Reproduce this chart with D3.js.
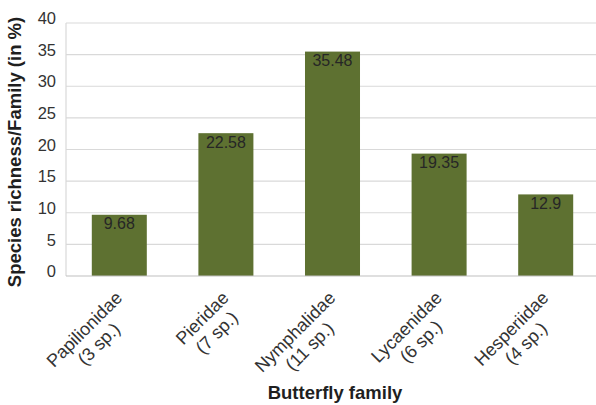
<!DOCTYPE html>
<html>
<head>
<meta charset="utf-8">
<script src="https://cdn.jsdelivr.net/npm/d3@7"></script>
<style>
  html, body { margin: 0; padding: 0; background: #fff; }
  svg { display: block; font-family: "Liberation Sans", Arial, sans-serif; }
</style>
</head>
<body>
<svg id="chart" width="596" height="405"></svg>
<script>
// Butterfly families and their share of recorded species
const families = ["Papilionidae", "Pieridae", "Nymphalidae", "Lycaenidae", "Hesperiidae"];
const speciesCounts = ["(3 sp.)", "(7 sp.)", "(11 sp.)", "(6 sp.)", "(4 sp.)"];
const richness = [9.68, 22.58, 35.48, 19.35, 12.9];
const yTicks = [0, 5, 10, 15, 20, 25, 30, 35, 40];

const svg = d3.select("#chart");
const plot = { left: 66, right: 599, top: 23, bottom: 276 };

const x = d3.scaleBand()
  .domain(families)
  .range([plot.left, plot.right])
  .paddingInner(0.484)
  .paddingOuter(0.242);

const y = d3.scaleLinear()
  .domain([0, 40])
  .range([plot.bottom, plot.top]);

// horizontal gridlines
svg.append("g")
  .selectAll("line")
  .data(yTicks.filter(d => d > 0))
  .join("line")
  .attr("x1", plot.left).attr("x2", plot.right)
  .attr("y1", d => y(d)).attr("y2", d => y(d))
  .attr("stroke", "#d9d9d9").attr("stroke-width", 1.2);

// left edge of the plot area
svg.append("line")
  .attr("x1", plot.left).attr("x2", plot.left)
  .attr("y1", plot.top).attr("y2", plot.bottom)
  .attr("stroke", "#d9d9d9").attr("stroke-width", 1.2);

// y axis labels
const yAxis = svg.append("g")
  .attr("transform", `translate(${plot.left - 10},0)`)
  .call(d3.axisLeft(y).tickValues(yTicks).tickSize(0).tickPadding(0));
yAxis.select(".domain").remove();
yAxis.selectAll("text")
  .attr("font-size", 16.5)
  .attr("fill", "#333")
  .attr("font-family", "Liberation Sans, Arial, sans-serif")
  .attr("dy", "0.04em");

// bars
svg.append("g")
  .selectAll("rect")
  .data(richness)
  .join("rect")
  .attr("x", (d, i) => x(families[i]))
  .attr("y", d => y(d))
  .attr("width", x.bandwidth())
  .attr("height", d => y(0) - y(d))
  .attr("fill", "#5e7131");

// baseline
svg.append("line")
  .attr("x1", plot.left).attr("x2", plot.right)
  .attr("y1", y(0)).attr("y2", y(0))
  .attr("stroke", "#bfbfbf").attr("stroke-width", 1.2);

// value labels inside the top of each bar
svg.append("g")
  .selectAll("text")
  .data(richness)
  .join("text")
  .attr("x", (d, i) => x(families[i]) + x.bandwidth() / 2)
  .attr("y", d => y(d) + 14.5)
  .attr("text-anchor", "middle")
  .attr("font-size", 16)
  .attr("fill", "#262626")
  .text(d => d);

// rotated two-line category labels
const xLabels = svg.append("g")
  .selectAll("g")
  .data(families)
  .join("g")
  .attr("transform", d => `translate(${x(d) + x.bandwidth() / 2 + 4},${plot.bottom + 23}) rotate(-45)`);

xLabels.each(function (d, i) {
  const g = d3.select(this);
  const l1 = g.append("text")
    .attr("font-size", 18).attr("fill", "#333")
    .attr("text-anchor", "middle")
    .text(d);
  const l2 = g.append("text")
    .attr("font-size", 18).attr("fill", "#333")
    .attr("text-anchor", "middle")
    .attr("y", 20.5)
    .text(speciesCounts[i]);
  const w = Math.max(l1.node().getComputedTextLength(), l2.node().getComputedTextLength());
  l1.attr("x", -w / 2);
  l2.attr("x", -w / 2);
});

// axis titles
svg.append("text")
  .attr("x", 335).attr("y", 399)
  .attr("text-anchor", "middle")
  .attr("font-size", 18.5).attr("font-weight", "bold")
  .attr("fill", "#1f1f1f")
  .text("Butterfly family");

svg.append("text")
  .attr("transform", "translate(21,152) rotate(-90)")
  .attr("text-anchor", "middle")
  .attr("font-size", 18.5).attr("font-weight", "bold")
  .attr("fill", "#1f1f1f")
  .text("Species richness/Family (in %)");
</script>
</body>
</html>
